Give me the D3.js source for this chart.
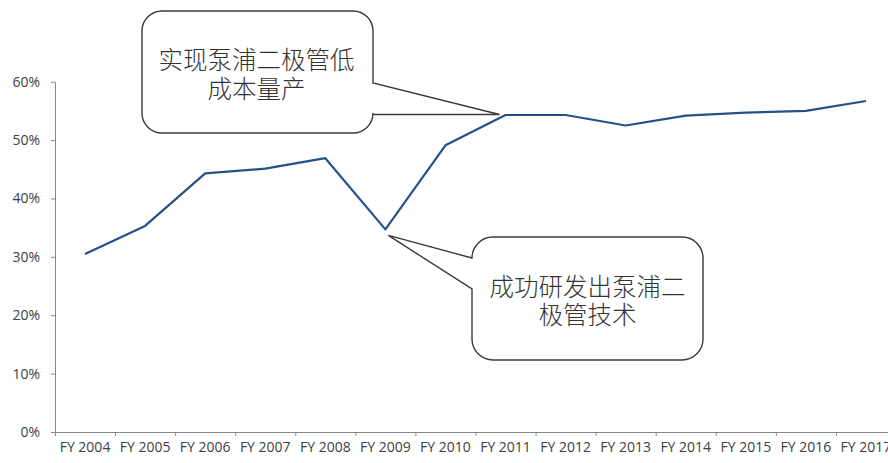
<!DOCTYPE html>
<html>
<head>
<meta charset="utf-8">
<script src="https://cdn.jsdelivr.net/npm/d3@7"></script>
<style>
  html, body { margin: 0; padding: 0; background: #fff; }
  svg { display: block; }
</style>
</head>
<body>
<svg id="chart" width="888" height="463"></svg>
<script>
// ---- data ----
const years = ["FY 2004","FY 2005","FY 2006","FY 2007","FY 2008","FY 2009","FY 2010",
               "FY 2011","FY 2012","FY 2013","FY 2014","FY 2015","FY 2016","FY 2017"];
const margin = [0.305, 0.353, 0.443, 0.451, 0.469, 0.347, 0.491,
                0.543, 0.543, 0.525, 0.542, 0.547, 0.550, 0.567];
const yTicks = [0, 0.1, 0.2, 0.3, 0.4, 0.5, 0.6];
const note1Lines = ["实现泵浦二极管低", "成本量产"];
const note2Lines = ["成功研发出泵浦二", "极管技术"];
const note1Year = "FY 2011";
const note2Year = "FY 2009";

// ---- layout ----
const svg = d3.select("#chart");
const x = d3.scaleBand().domain(years).range([55, 55 + 14 * 60.07]);
const y = d3.scaleLinear().domain([0, 0.6]).range([432, 81.7]);
const axisColor = "#868686";
const textColor = "#404040";
const font = "'Open Sans', 'Noto Sans', sans-serif";

// y axis
const yAxis = svg.append("g").attr("transform", "translate(55,0)")
  .call(d3.axisLeft(y).tickValues(yTicks).tickFormat(d3.format(".0%")).tickSize(4).tickSizeOuter(0).tickPadding(11));
yAxis.select(".domain").attr("stroke", axisColor);
yAxis.selectAll(".tick line").attr("stroke", axisColor);
yAxis.selectAll(".tick text").attr("fill", textColor).style("font-family", font).style("font-size", "14px");

// x axis (labels centered in bands, ticks at band boundaries)
const xAxis = svg.append("g").attr("transform", "translate(0,432)")
  .call(d3.axisBottom(x).tickSize(0).tickSizeOuter(0).tickPadding(10));
xAxis.select(".domain").attr("stroke", axisColor);
xAxis.selectAll(".tick text").attr("fill", textColor).style("font-family", font).style("font-size", "14px");
xAxis.selectAll(".bound").data(years).enter().append("line")
  .attr("class", "bound")
  .attr("x1", d => x(d) + 0.5).attr("x2", d => x(d) + 0.5)
  .attr("y1", 0).attr("y2", 4)
  .attr("stroke", axisColor);

// line
const line = d3.line().x((d, i) => x(years[i]) + x.bandwidth() / 2).y(d => y(d));
svg.append("path").datum(margin)
  .attr("d", line)
  .attr("fill", "none")
  .attr("stroke", "#24508C")
  .attr("stroke-width", 2.2)
  .attr("stroke-linejoin", "round");

// callouts
function cx(yr) { return x(yr) + x.bandwidth() / 2; }
function cy(yr) { return y(margin[years.indexOf(yr)]); }

// callout 1: pointer on right side
(function () {
  const x0 = 142, y0 = 11, x1 = 373, y1 = 133, r = 20;
  const tx = cx(note1Year) - 6, ty = cy(note1Year) - 0.5;
  const p = d3.path();
  p.moveTo(x0 + r, y0);
  p.lineTo(x1 - r, y0);
  p.arcTo(x1, y0, x1, y0 + r, r);
  p.lineTo(x1, 83);
  p.lineTo(tx, ty);
  p.lineTo(x1, ty);
  p.lineTo(x1, y1 - r);
  p.arcTo(x1, y1, x1 - r, y1, r);
  p.lineTo(x0 + r, y1);
  p.arcTo(x0, y1, x0, y1 - r, r);
  p.lineTo(x0, y0 + r);
  p.arcTo(x0, y0, x0 + r, y0, r);
  p.closePath();
  svg.append("path").attr("d", p.toString()).attr("fill", "#fff")
    .attr("stroke", "#3a3a3a").attr("stroke-width", 1.4);
  svg.selectAll(".n1").data(note1Lines).enter().append("text")
    .attr("x", (x0 + x1) / 2 - 1).attr("y", (d, i) => 69 + i * 29)
    .attr("text-anchor", "middle")
    .attr("fill", "#333")
    .style("font-family", "'Noto Sans CJK SC', sans-serif")
    .style("font-weight", 300)
    .style("font-size", "24.5px")
    .text(d => d);
})();

// callout 2: pointer on left side
(function () {
  const x0 = 472, y0 = 237, x1 = 703, y1 = 360, r = 21;
  const tx = cx(note2Year) + 3, ty = cy(note2Year) + 6;
  const p = d3.path();
  p.moveTo(x0 + r, y0);
  p.lineTo(x1 - r, y0);
  p.arcTo(x1, y0, x1, y0 + r, r);
  p.lineTo(x1, y1 - r);
  p.arcTo(x1, y1, x1 - r, y1, r);
  p.lineTo(x0 + r, y1);
  p.arcTo(x0, y1, x0, y1 - r, r);
  p.lineTo(x0, 289);
  p.lineTo(tx, ty);
  p.lineTo(x0, y0 + r);
  p.arcTo(x0, y0, x0 + r, y0, r);
  p.closePath();
  svg.append("path").attr("d", p.toString()).attr("fill", "#fff")
    .attr("stroke", "#3a3a3a").attr("stroke-width", 1.4);
  svg.selectAll(".n2").data(note2Lines).enter().append("text")
    .attr("x", (x0 + x1) / 2).attr("y", (d, i) => 296 + i * 27.5)
    .attr("text-anchor", "middle")
    .attr("fill", "#333")
    .style("font-family", "'Noto Sans CJK SC', sans-serif")
    .style("font-weight", 300)
    .style("font-size", "24.5px")
    .text(d => d);
})();
</script>
</body>
</html>
